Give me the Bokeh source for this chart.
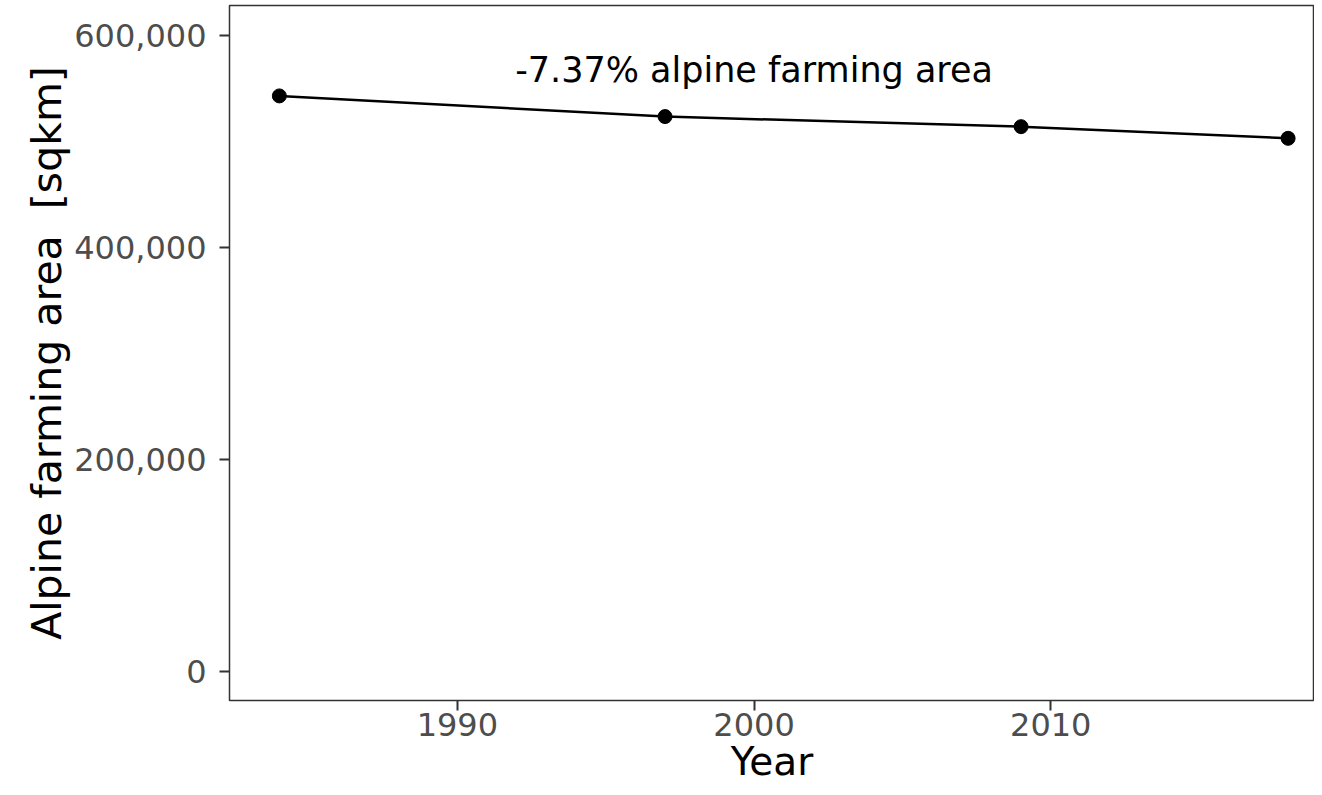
from bokeh.plotting import figure
from bokeh.models import Range1d, NumeralTickFormatter, FixedTicker
from bokeh.embed import file_html
from bokeh.resources import INLINE
from bokeh.core.properties import value

years = [1984, 1997, 2009, 2018]
area = [543000, 523500, 514000, 503000]
x_ticks = [1990, 2000, 2010]
y_ticks = [0, 200000, 400000, 600000]
note = "-7.37% alpine farming area"
note_x = 2000
note_y = 567500
x_title = "Year"
y_title = "Alpine farming area\u00a0 [sqkm]"

FONT = "DejaVu Sans"

p = figure(width=1314, height=787, output_backend="svg", toolbar_location=None,
           x_range=Range1d(1982.32, 2018.89), y_range=Range1d(-27358, 628302),
           min_border_left=229, min_border_right=0, min_border_top=5, min_border_bottom=87)
p.background_fill_color = "white"
p.border_fill_color = "white"
p.outline_line_color = "#333333"
p.outline_line_width = 1.5
p.xgrid.visible = False
p.ygrid.visible = False

for ax in (p.xaxis[0], p.yaxis[0]):
    ax.axis_line_color = None
    ax.major_tick_line_color = "#333333"
    ax.major_tick_line_width = 2
    ax.major_tick_out = 10
    ax.major_tick_in = 0
    ax.minor_tick_line_color = None
    ax.major_label_text_font = FONT
    ax.major_label_text_font_size = "32px"
    ax.major_label_text_color = "#4D4D4D"
    ax.axis_label_text_font = FONT
    ax.axis_label_text_font_style = "normal"
    ax.axis_label_text_color = "black"

p.xaxis.axis_label_text_font_size = "39px"
p.yaxis.axis_label_text_font_size = "41px"
p.xaxis.ticker = FixedTicker(ticks=x_ticks)
p.yaxis.ticker = FixedTicker(ticks=y_ticks)
p.yaxis.formatter = NumeralTickFormatter(format="0,0")
p.xaxis.axis_label = x_title
p.yaxis.axis_label = y_title
p.xaxis.major_label_standoff = 2
p.yaxis.major_label_standoff = 13
p.xaxis.axis_label_standoff = 0
p.yaxis.axis_label_standoff = 0

p.line(years, area, line_color="black", line_width=2.5)
p.scatter(years, area, size=14, fill_color="black", line_color="black")
p.text(x=[note_x], y=[note_y], text=[note], text_align="center", text_baseline="middle",
       text_font=value(FONT), text_font_size="35px", text_color="black")

open("out.html", "w").write(file_html(p, INLINE))
